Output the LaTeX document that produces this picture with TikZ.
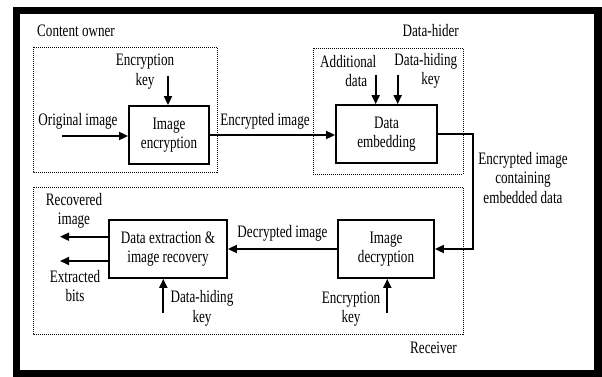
\documentclass[tikz,border=0pt]{standalone}
\usepackage{fontspec}
\setmainfont{Liberation Serif}[FakeStretch=0.75]
\usetikzlibrary{arrows.meta}
\begin{document}
\begin{tikzpicture}[x=1pt,y=-1pt,
  every node/.style={font=\fontsize{17.5}{19.5}\selectfont, inner sep=0pt, align=center},
  proc/.style={draw, line width=1.8pt},
  group/.style={draw, line width=0.9pt, dash pattern=on 1pt off 1pt},
  flow/.style={line width=1.8pt, -{Triangle[length=9pt,width=8pt]}},
  frame/.style={draw, line width=7.5pt}]
\useasboundingbox (0,0) rectangle (602,377);
% outer frame
\draw[frame] (16.5,10.5) rectangle (598,373.5);

% groups
\draw[group] (33,47) rectangle (217,172);
\draw[group] (313,48) rectangle (463,174);
\draw[group] (33,187) rectangle (463,334);
\node[anchor=west] (owner) at (37,31) {Content owner};
\node[anchor=east] (hider) at (459,31) {Data-hider};
\node[anchor=east] (receiver) at (457,347.5) {Receiver};

% processing blocks
\node[proc, minimum width=80pt, minimum height=58pt] (enc) at (169,135) {Image\\encryption};
\node[proc, minimum width=101pt, minimum height=58pt] (emb) at (386.5,134) {Data\\embedding};
\node[proc, minimum width=96pt, minimum height=58pt] (dec) at (386,249) {Image\\decryption};
\node[proc, minimum width=118pt, minimum height=58pt] (ext) at (168,249) {Data extraction \&\\image recovery};

% labels
\node (keyA) at (145,71.5) {Encryption\\key};
\node (orig) at (78,121) {Original image};
\node (encimg) at (265,121.5) {Encrypted image};
\node (adddata) at (348.3,71) {Additional\\\hspace*{16pt}data};
\node (dhkeyA) at (425.8,71) {Data-hiding\\\hspace*{10pt}key};
\node (marked) at (523,178) {Encrypted image\\containing\\embedded data};
\node (decimg) at (282.5,233) {Decrypted image};
\node (keyB) at (351,309) {Encryption\\key};
\node (dhkeyB) at (202,308.5) {Data-hiding\\key};
\node (recovered) at (74,211) {Recovered\\image};
\node (extracted) at (75,286) {Extracted\\bits};

% free ends of connectors
\coordinate (origStart) at (62,136);
\coordinate (keyAStart) at (168,76);
\coordinate (addStart) at (375.7,75);
\coordinate (dhkAStart) at (397.7,75);
\coordinate (keyBStart) at (387.3,312.7);
\coordinate (dhkBStart) at (163.3,312.7);
\coordinate (recEnd) at (60,236.7);
\coordinate (bitsEnd) at (60,261);

% connectors
\draw[flow] (origStart) -- (origStart -| enc.west);
\draw[flow] (keyAStart) -- (keyAStart |- enc.north);
\draw[flow] (enc.east) -- (enc.east -| emb.west);
\draw[flow] (addStart) -- (addStart |- emb.north);
\draw[flow] (dhkAStart) -- (dhkAStart |- emb.north);
\draw[flow] (emb.east) -- ++(35,0) |- (dec.east);
\draw[flow] (keyBStart) -- (keyBStart |- dec.south);
\draw[flow] (dec.west) -- (ext.east);
\draw[flow] (dhkBStart) -- (dhkBStart |- ext.south);
\draw[flow] (recEnd -| ext.west) -- (recEnd);
\draw[flow] (bitsEnd -| ext.west) -- (bitsEnd);
\end{tikzpicture}
\end{document}
